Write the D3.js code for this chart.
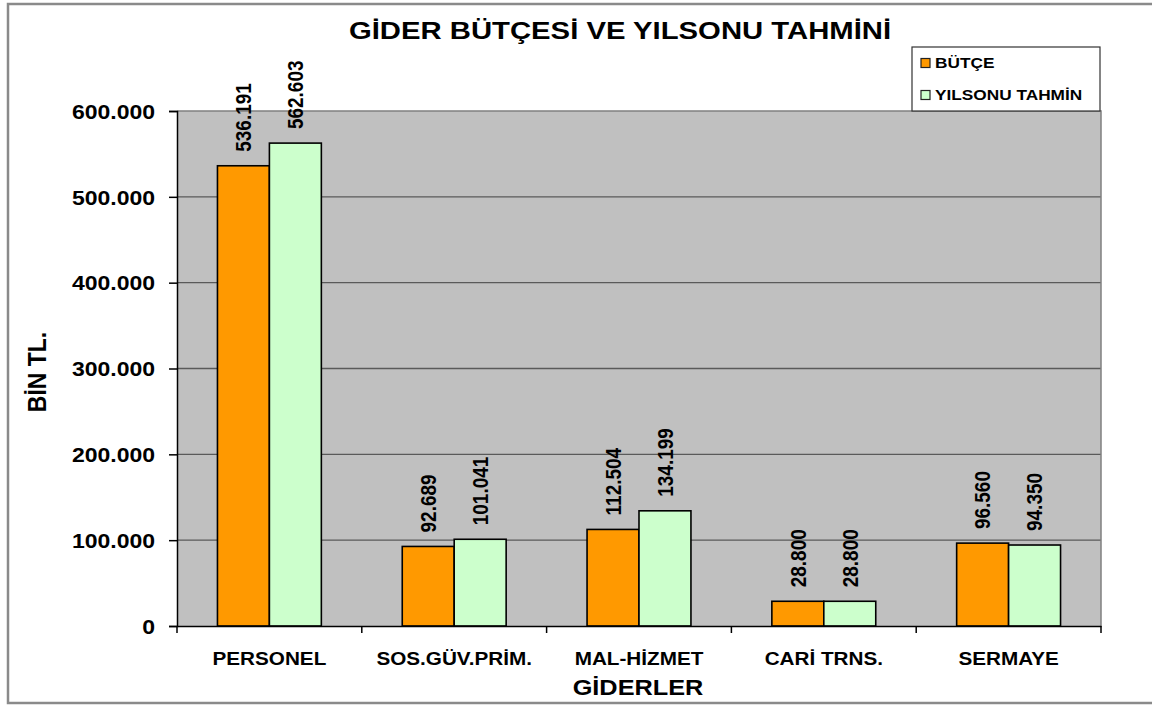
<!DOCTYPE html>
<html>
<head>
<meta charset="utf-8">
<script src="https://cdn.jsdelivr.net/npm/d3@7"></script>
<style>
  body { margin: 0; background: #fff; }
  text { font-family: "Liberation Sans", Arial, sans-serif; font-weight: bold; fill: #000; }
</style>
</head>
<body>
<div id="canvas"></div>
<script>
// data
var categories = ["PERSONEL", "SOS.GÜV.PRİM.", "MAL-HİZMET", "CARİ TRNS.", "SERMAYE"]
var series = ["BÜTÇE", "YILSONU TAHMİN"]
var butce = [536191, 92689, 112504, 28800, 96560]
var tahmin = [562603, 101041, 134199, 28800, 94350]
var yTicks = [0, 100000, 200000, 300000, 400000, 500000, 600000]
var colors = ["#FF9900", "#CCFFCC"]

var W = 1152, H = 705
var SX = 1.15 // the original picture is stretched sideways a bit
var margin = {top: 111, right: 51, bottom: 79, left: 177},
    width = W - margin.left - margin.right,
    height = H - margin.top - margin.bottom;

var tr = d3.formatLocale({decimal: ",", thousands: ".", grouping: [3], currency: ["", " TL"]})
var fmt = tr.format(",d")

var svg = d3.select("#canvas").append("svg")
    .attr("width", W).attr("height", H)

// outer frame (right side runs off the picture)
svg.append("rect")
  .attr("x", 8).attr("y", 4).attr("width", W + 20).attr("height", 699)
  .attr("fill", "#fff").attr("stroke", "#8a8a8a").attr("stroke-width", 2.5)

var g = svg.append("g").attr("transform", "translate(" + margin.left + "," + margin.top + ")")

var y = d3.scaleLinear().domain([0, 600000]).range([height, 0])
var xCat = d3.scaleBand().domain(categories).range([0, width])
var xGroup = d3.scaleBand().domain(categories).range([0, width])
    .paddingInner(0.4378).paddingOuter(0.2189)
var xSub = d3.scaleBand().domain(series).range([0, xGroup.bandwidth()])

// plot area
g.append("rect").attr("width", width).attr("height", height).attr("fill", "#c0c0c0")

// grid lines
g.append("g").selectAll("line")
  .data(yTicks.filter(function(d) { return d > 0 && d < 600000 }))
  .enter().append("line")
    .attr("x1", 0).attr("x2", width)
    .attr("y1", function(d) { return y(d) }).attr("y2", function(d) { return y(d) })
    .attr("stroke", "#5a5a5a").attr("stroke-width", 1.3)

// plot border top / right
g.append("path").attr("d", "M0,0H" + width + "V" + height)
  .attr("fill", "none").attr("stroke", "#808080").attr("stroke-width", 1.5)

// bars
var rows = categories.map(function(c, i) { return {cat: c, vals: [butce[i], tahmin[i]]} })
var groups = g.append("g").selectAll("g").data(rows).enter().append("g")
    .attr("transform", function(d) { return "translate(" + xGroup(d.cat) + ",0)" })

groups.selectAll("rect")
  .data(function(d) { return d.vals.map(function(v, k) { return {key: series[k], value: v, k: k} }) })
  .enter().append("rect")
    .attr("x", function(d) { return xSub(d.key) })
    .attr("y", function(d) { return y(d.value) })
    .attr("width", xSub.bandwidth())
    .attr("height", function(d) { return height - y(d.value) })
    .attr("fill", function(d) { return colors[d.k] })
    .attr("stroke", "#000").attr("stroke-width", 1.6)

// value labels, rotated
groups.selectAll("text")
  .data(function(d) { return d.vals.map(function(v, k) { return {key: series[k], value: v} }) })
  .enter().append("text")
    .attr("transform", function(d) {
      return "translate(" + (xSub(d.key) + xSub.bandwidth() / 2) + "," + (y(d.value) - 14) + ") scale(" + SX + ",1) rotate(-90)"
    })
    .attr("dy", "0.36em")
    .style("font-size", "19px")
    .text(function(d) { return fmt(d.value) })

// y axis
var yAxis = g.append("g")
    .call(d3.axisLeft(y).tickValues(yTicks).tickFormat(fmt).tickSize(8).tickPadding(6))
yAxis.select(".domain").attr("stroke", "#000").attr("stroke-width", 1.5)
yAxis.selectAll(".tick line").attr("stroke", "#000").attr("stroke-width", 1.5)
yAxis.selectAll(".tick text")
  .attr("font-family", null).attr("font-size", null)
  .style("font-size", "20px")
  .attr("transform", "translate(-22,0) scale(" + SX + ",1)")
  .attr("x", 0).attr("dy", "0.36em")

// x axis
var xAxis = g.append("g").attr("transform", "translate(0," + height + ")")
    .call(d3.axisBottom(xCat).tickSize(0).tickPadding(0))
xAxis.select(".domain").attr("stroke", "#000").attr("stroke-width", 1.5)
xAxis.selectAll(".tick text")
  .attr("font-family", null).attr("font-size", null)
  .style("font-size", "18px")
  .attr("y", 0).attr("dy", 0)
  .attr("transform", "translate(0,39) scale(" + SX + ",1)")
// tick marks between categories
xAxis.append("g").selectAll("line")
  .data(categories.concat(["end"]))
  .enter().append("line")
    .attr("x1", function(d, i) { return i * xCat.step() }).attr("x2", function(d, i) { return i * xCat.step() })
    .attr("y1", 0).attr("y2", 7)
    .attr("stroke", "#000").attr("stroke-width", 1.5)

// title
svg.append("text")
  .attr("transform", "translate(620,39) scale(1.22,1)")
  .attr("text-anchor", "middle")
  .style("font-size", "24px")
  .text("GİDER BÜTÇESİ VE YILSONU TAHMİNİ")

// axis titles
svg.append("text")
  .attr("transform", "translate(638,695) scale(" + SX + ",1)")
  .attr("text-anchor", "middle")
  .style("font-size", "22px")
  .text("GİDERLER")

svg.append("text")
  .attr("transform", "translate(36,372) scale(" + SX + ",1) rotate(-90)")
  .attr("text-anchor", "middle")
  .attr("dy", "0.36em")
  .style("font-size", "23px")
  .text("BİN TL.")

// legend
var legend = svg.append("g").attr("transform", "translate(912,47)")
legend.append("rect").attr("width", 188).attr("height", 64)
  .attr("fill", "#fff").attr("stroke", "#333").attr("stroke-width", 1.2)
var items = legend.selectAll("g.item").data(series).enter().append("g")
    .attr("class", "item")
    .attr("transform", function(d, i) { return "translate(0," + (16 + i * 32) + ")" })
items.append("rect")
  .attr("x", 9).attr("y", -4.5).attr("width", 9).attr("height", 9)
  .attr("fill", function(d, i) { return colors[i] })
  .attr("stroke", "#222").attr("stroke-width", 1.2)
items.append("text")
  .attr("transform", "translate(23,0) scale(" + SX + ",1)")
  .attr("dy", "0.36em")
  .style("font-size", "15px")
  .text(function(d) { return d })
</script>
</body>
</html>
